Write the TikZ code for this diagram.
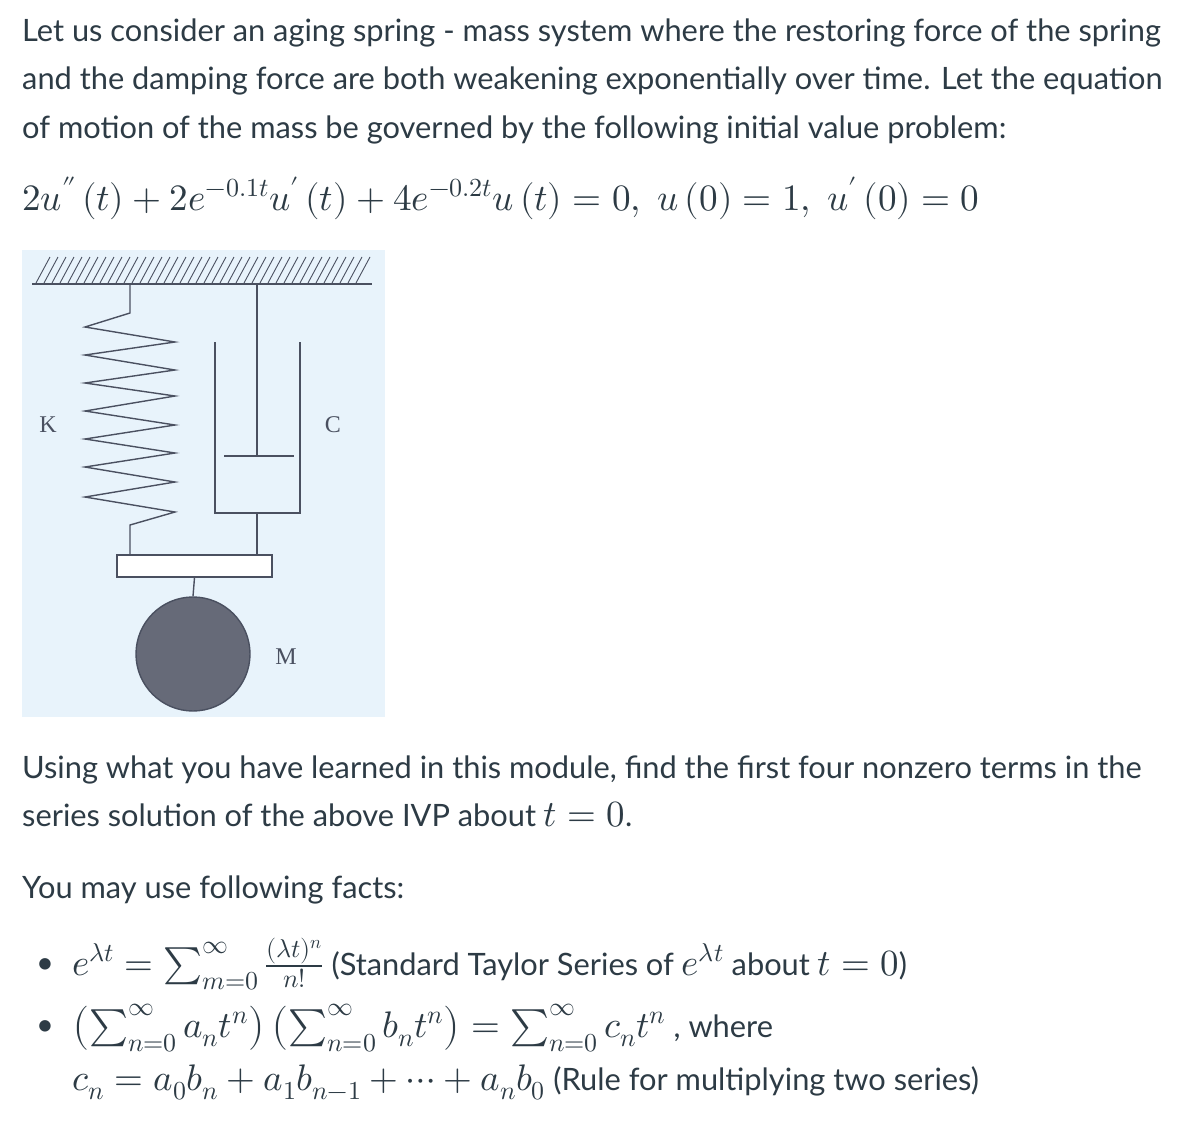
\documentclass[tikz,border=0pt]{standalone}
\usepackage{unicode-math}
\setmainfont{Lato}
\setmathfont{Latin Modern Math}[Scale=1.2]
\definecolor{txt}{HTML}{2D3B45}
\definecolor{bgb}{HTML}{E8F3FB}
\definecolor{ln}{HTML}{4A5060}
\definecolor{massc}{HTML}{666A78}
\begin{document}
\begin{tikzpicture}[x=1pt,y=-1pt,
  t/.style={anchor=base west,inner sep=0,text=txt,font=\fontsize{30.8}{36}\selectfont},
  lab/.style={font=\fontsize{24}{28}\selectfont\setmainfont{Liberation Serif},text=ln,inner sep=0},
  mech/.style={draw=ln,line width=1.4pt}]
\useasboundingbox (0,0) rectangle (1200,1124);
\node[t] (l1) at (22,42) {Let us consider an aging spring - mass system where the restoring force of the spring};
\node[t] (l2) at (22,90) {and the damping force are both weakening exponentially over time. Let the equation};
\node[t] (l3) at (22,138) {of motion of the mass be governed by the following initial value problem:};
\node[t] (eq) at (22,210) {\fontsize{31}{36}\selectfont$2u''\,(t)+2e^{-0.1t}u'\,(t)+4e^{-0.2t}u\,(t)=0,\; u\,(0)=1,\; u'\,(0)=0$};
% figure
\fill[bgb] (22,250) rectangle (385,717);
\foreach \x in {36,44,...,360} \draw[ln,line width=0.9pt] (\x,283) -- (\x+14,257);
\draw[mech] (32,284) -- (372,284);
\coordinate (sa) at (130,284);
\draw[mech] (sa) -- (130,313) -- (85,327) -- (175,342) -- (85,355) -- (175,370) -- (85,383) -- (175,396) -- (85,411) -- (175,425) -- (85,439) -- (175,453) -- (85,467) -- (175,482) -- (85,497) -- (175,512) -- (130,525) -- (130,555);
\draw[mech] (257,284) -- (257,456);
\draw[mech] (224,456) -- (294,456);
\draw[mech] (215,342) -- (215,513) -- (300,513) -- (300,342);
\draw[mech] (257,513) -- (257,555);
\node[mech,fill=white,minimum width=155,minimum height=22,inner sep=0] (plate) at (194.5,566) {};
\node[mech,circle,fill=massc,minimum size=114,inner sep=0] (mass) at (193,654) {};
\draw[mech] (plate.south) -- (mass.north);
\node[lab] (K) at (48,425) {K};
\node[lab] (C) at (333,425) {C};
\node[lab] (M) at (286,657) {M};
% text
\node[t] (u1) at (22,778) {Using what you have learned in this module, find the first four nonzero terms in the};
\node[t] (u2) at (22,826) {series solution of the above IVP about $t=0$.};
\node[t] (u3) at (22,898) {You may use following facts:};
\node[t] (b1) at (36,973) {•};
\node[t] (f1) at (72,975) {$e^{\lambda t}=\sum_{m=0}^{\infty}\frac{(\lambda t)^n}{n!}$ (Standard Taylor Series of $e^{\lambda t}$ about $t=0$)};
\node[t] (b2) at (36,1035) {•};
\node[t] (f2) at (72,1037) {$\left(\sum_{n=0}^{\infty}a_nt^n\right)\left(\sum_{n=0}^{\infty}b_nt^n\right)=\sum_{n=0}^{\infty}c_nt^n$ , where};
\node[t] (f3) at (72,1090) {$c_n=a_0b_n+a_1b_{n-1}+\cdots+a_nb_0$ (Rule for multiplying two series)};
\end{tikzpicture}
\end{document}
